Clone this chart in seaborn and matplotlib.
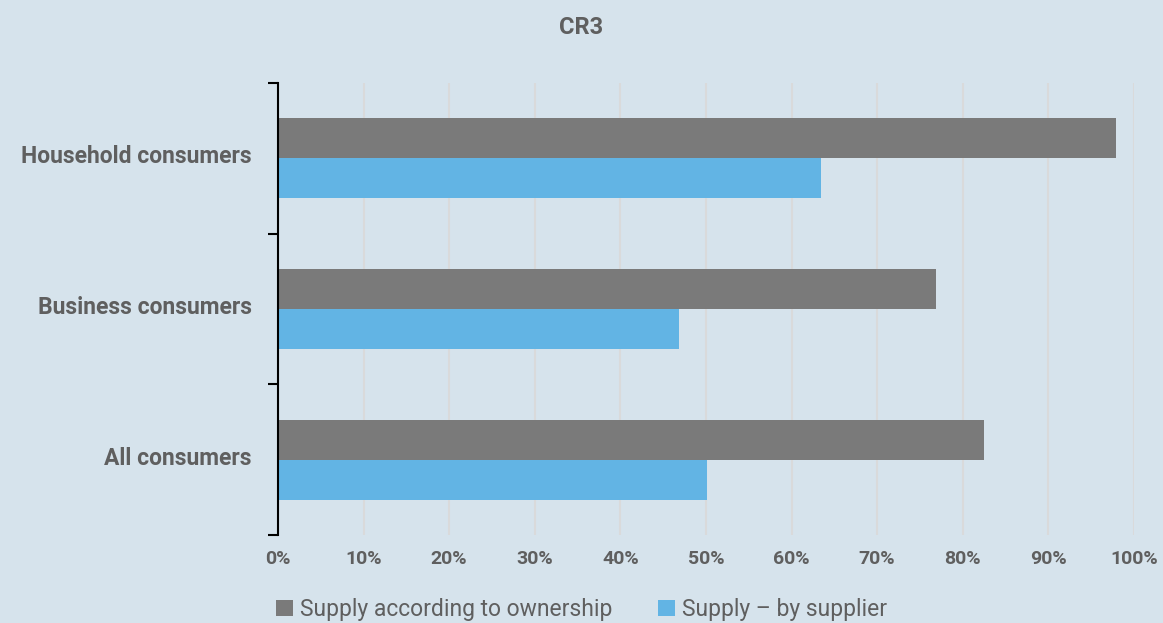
import pandas as pd
import seaborn as sns
import matplotlib.pyplot as plt
import matplotlib.transforms as mtransforms

# values (share, %)
categories = ["Household consumers", "Business consumers", "All consumers"]
series = ["Supply according to ownership", "Supply \u2013 by supplier"]
ownership = [97.9, 76.9, 82.5]
by_supplier = [63.4, 46.8, 50.1]
xticks = [0, 10, 20, 30, 40, 50, 60, 70, 80, 90, 100]
xtick_labels = [f"{t}%" for t in xticks]

bg = "#d6e3ec"
text_col = "#5f5f5f"
colors = ["#7a7a7a", "#62b4e4"]

df = pd.DataFrame({
    "Category": categories * 2,
    "Series": [series[0]] * 3 + [series[1]] * 3,
    "Value": ownership + by_supplier,
})

sns.set_theme(style="white")
plt.rcParams["font.family"] = ["Roboto", "DejaVu Sans"]

fig = plt.figure(figsize=(11.63, 6.23), dpi=100, facecolor=bg)
ax = fig.add_axes([0.239, 0.1413, 0.736, 0.7255], facecolor=bg)

sns.barplot(data=df, y="Category", x="Value", hue="Series", hue_order=series,
            order=categories, palette=colors, orient="h", width=0.53,
            saturation=1, ax=ax, edgecolor="none")

handles, labels = ax.get_legend_handles_labels()
ax.get_legend().remove()

ax.set_xlim(0, 100)
ax.set_ylim(2.5, -0.5)
ax.set_xticks(xticks)
ax.set_xticklabels(xtick_labels, fontsize=14, fontweight="bold", color=text_col)
ax.tick_params(axis="x", length=0, pad=11)
ax.xaxis.grid(True, color="#d9dadb", linewidth=1.5)
ax.set_axisbelow(True)

ax.set_yticks(range(len(categories)))
ax.set_yticklabels(categories, fontsize=16.5, fontweight="bold", color=text_col)
ax.set_yticks([-0.5, 0.5, 1.5, 2.5], minor=True)
ax.tick_params(axis="y", which="major", left=False, length=0, pad=19)
ax.tick_params(axis="y", which="minor", left=True, length=7, width=1.5,
               color="black", direction="out")

# category labels sit a little above the bar-pair centre in the original
shift = mtransforms.ScaledTranslation(0, 4 / 100, fig.dpi_scale_trans)
for lbl in ax.get_yticklabels():
    lbl.set_transform(lbl.get_transform() + shift)

for side in ["top", "right", "bottom"]:
    ax.spines[side].set_visible(False)
ax.spines["left"].set_color("black")
ax.spines["left"].set_linewidth(1.5)

ax.set_xlabel("")
ax.set_ylabel("")

fig.suptitle("CR3", y=0.975, fontsize=17, fontweight="bold", color=text_col)

fig.legend(handles, labels, loc="lower center", bbox_to_anchor=(0.5, -0.03),
           ncol=2, frameon=False, fontsize=16.5, handlelength=0.75, handleheight=0.75,
           handletextpad=0.3, columnspacing=2.0, labelcolor=text_col)

plt.savefig("out.png", dpi=100, facecolor=bg)
